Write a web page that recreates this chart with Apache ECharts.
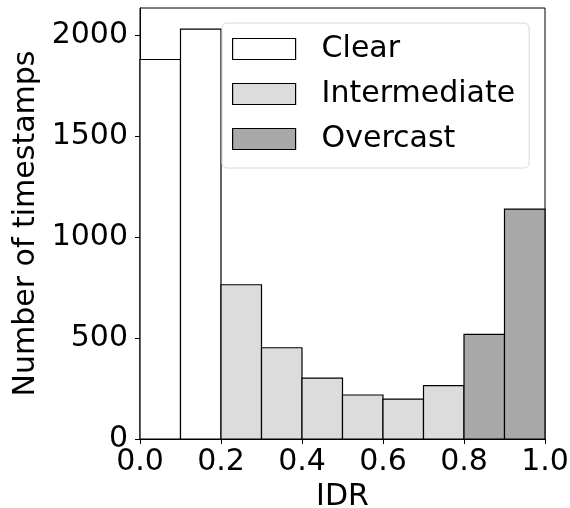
<!DOCTYPE html>
<html><head><meta charset="utf-8">
<script src="https://cdn.jsdelivr.net/npm/echarts@6/dist/echarts.min.js"></script>
<style>html,body{margin:0;padding:0;background:#fff}#c{width:570px;height:508px}</style>
</head><body><div id="c"></div>
<script>
const binEdges = [0.0, 0.1, 0.2, 0.3, 0.4, 0.5, 0.6, 0.7, 0.8, 0.9, 1.0];
const counts = [1880, 2030, 764, 452, 302, 218, 198, 264, 518, 1139];
const classes = ['Clear','Clear','Intermediate','Intermediate','Intermediate','Intermediate','Intermediate','Intermediate','Overcast','Overcast'];
const seriesNames = ['Clear', 'Intermediate', 'Overcast'];
const seriesColors = ['#ffffff', '#dcdcdc', '#a9a9a9'];
const xTicks = [0.0, 0.2, 0.4, 0.6, 0.8, 1.0];
const yTicks = [0, 500, 1000, 1500, 2000];

const FONT = 'DejaVu Sans';
const FS = 30;
const chart = echarts.init(document.getElementById('c'), null, {renderer:'canvas'});

function renderItem(params, api) {
  const p0 = api.coord([api.value(0), api.value(2)]);
  const p1 = api.coord([api.value(1), 0]);
  return {
    type: 'rect',
    shape: {x: p0[0], y: p0[1], width: p1[0]-p0[0], height: p1[1]-p0[1]},
    style: {fill: api.visual('color'), stroke: '#000', lineWidth: 1.2}
  };
}

const series = seriesNames.map((name, si) => ({
  type: 'custom',
  name: name,
  renderItem: renderItem,
  itemStyle: {color: seriesColors[si], borderColor: '#000', borderWidth: 1.2},
  encode: {x: [0, 1], y: 2},
  data: counts.map((c, i) => classes[i] === name ? [binEdges[i], binEdges[i+1], c] : null).filter(d => d)
}));

chart.setOption({
  animation: false,
  backgroundColor: '#fff',
  grid: {left: 140, right: 25, top: 8, bottom: 69, show: true, borderColor: '#000', borderWidth: 1, backgroundColor: 'transparent', containLabel: false, outerBoundsMode: 'none'},
  legend: {
    orient: 'vertical', left: 222, top: 23,
    data: seriesNames,
    itemWidth: 63, itemHeight: 21, itemGap: 15,
    padding: [11, 14, 14, 10],
    backgroundColor: 'rgba(255,255,255,0.85)',
    borderColor: '#d8d8d8', borderWidth: 1, borderRadius: 5,
    icon: 'rect',
    itemStyle: {borderColor: '#000', borderWidth: 1.2},
    textStyle: {fontFamily: FONT, fontSize: FS, color: '#000', padding: [0,0,0,21]}
  },
  xAxis: {
    type: 'value', min: 0, max: 1, interval: 0.2,
    name: 'IDR', nameLocation: 'middle', nameGap: 42,
    nameTextStyle: {fontFamily: FONT, fontSize: FS, color: '#000'},
    axisLine: {show: true, onZero: false, lineStyle: {color: '#000', width: 1}},
    axisTick: {show: true, inside: false, length: 5, lineStyle: {color: '#000'}, customValues: xTicks},
    axisLabel: {fontFamily: FONT, fontSize: FS, color: '#000', margin: 8, customValues: xTicks,
      formatter: v => v.toFixed(1)},
    splitLine: {show: false}
  },
  yAxis: {
    type: 'value', min: 0, max: 2135, interval: 500,
    name: 'Number of timestamps', nameLocation: 'middle', nameGap: 97,
    nameTextStyle: {fontFamily: FONT, fontSize: FS, color: '#000'},
    axisLine: {show: true, lineStyle: {color: '#000', width: 1}},
    axisTick: {show: true, inside: false, length: 5, lineStyle: {color: '#000'}, customValues: yTicks},
    axisLabel: {fontFamily: FONT, fontSize: FS, color: '#000', margin: 12, customValues: yTicks,
      formatter: v => String(v)},
    splitLine: {show: false}
  },
  series: series
});
</script></body></html>
